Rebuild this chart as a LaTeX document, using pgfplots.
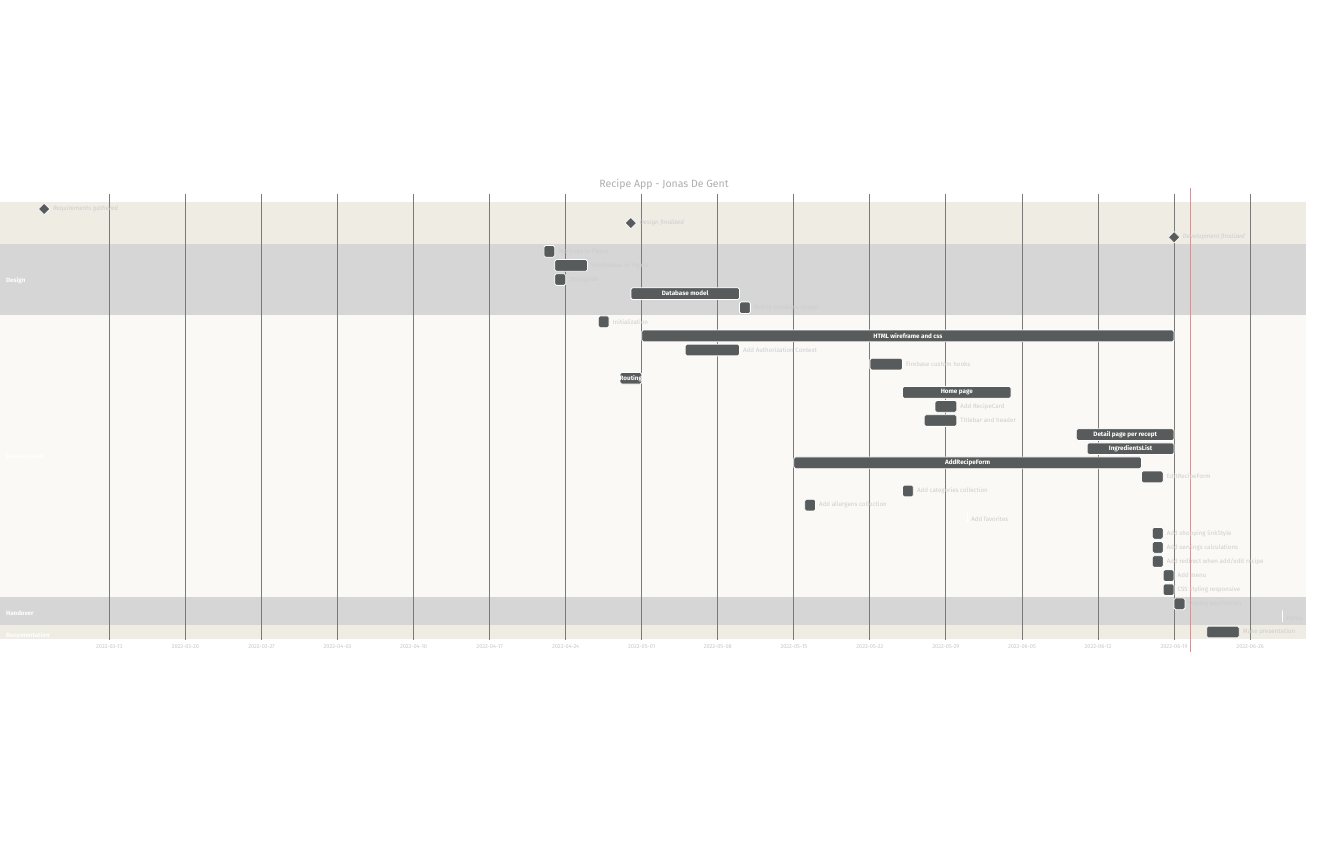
\documentclass[border=0pt]{standalone}
\usepackage{pgfplots}
\pgfplotsset{compat=1.18}
\usepackage{pgfplotstable}
\usepackage{fontspec}
\setmainfont{Fira Sans}

\definecolor{secA}{RGB}{239,236,228}
\definecolor{secB}{RGB}{214,214,214}
\definecolor{secC}{RGB}{250,249,246}
\definecolor{barc}{RGB}{88,91,91}
\definecolor{barstroke}{RGB}{255,255,255}
\definecolor{gridc}{RGB}{122,122,122}
\definecolor{outtext}{RGB}{205,205,205}
\definecolor{ticktext}{RGB}{198,198,198}
\definecolor{titlec}{RGB}{173,173,173}
\definecolor{todayc}{RGB}{240,138,138}

% tasks: row, start day, end day (day 0 = 2022-03-13)
\pgfplotstableread[col sep=comma]{
row,start,end
3,40,41
4,41,44
5,41,42
6,48,58
7,58,59
8,45,46
9,49,98
10,53,58
11,70,73
12,47,49
13,73,83
14,76,78
15,75,78
16,89,98
17,90,98
18,63,95
19,95,97
20,73,74
21,64,65
22,79,79
23,96,97
24,96,97
25,96,97
26,97,98
27,97,98
28,98,99
29,108,108
30,101,104
}\tasks

\pgfplotstableread[col sep=comma]{
x,row,label
53,6,Database model
73.5,9,HTML wireframe and css
48,12,Routing
78,13,Home page
93.5,16,Detail page per recept
94,17,IngredientsList
79,18,AddRecipeForm
}\inlab

\pgfplotstableread[col sep=comma]{
x,row,label
41.32,3,Mockups in Figma
44.32,4,Wireframes in Figma
42.32,5,Styleguide
59.32,7,Refine database model
46.32,8,Initialization
58.32,10,Add Authorization Context
73.32,11,Firebase custom hooks
78.32,14,Add RecipeCard
78.32,15,Titlebar and header
97.32,19,EditRecipeForm
74.32,20,Add categories collection
65.32,21,Add allergens collection
79.32,22,Add favorites
97.32,23,Add shopping linkStyle
97.32,24,Add servings calculations
97.32,25,Add redirect when add/edit recipe
98.32,26,Add menu
98.32,27,CSS styling responsive
99.32,28,Deploy application
108.32,29,Demo
104.32,30,Make presentation
}\outlab

\pgfplotstableread[col sep=comma]{
x,row
-6,0
48,1
98,2
}\miles

\pgfplotstableread[col sep=comma]{
x,row,label
-5.2,0,Requirements gathered
48.8,1,Design finalized
98.8,2,Development finalized
}\mileslab

\pgfplotstableread[col sep=comma]{
x,row,label
-9.52,5.1,Design
-9.52,17.6,Development
-9.52,28.7,Handover
-9.52,30.2,Documentation
}\seclab

\pgfplotstableread[col sep=comma]{
x,row,label
0,31.06,2022-03-13
7,31.06,2022-03-20
14,31.06,2022-03-27
21,31.06,2022-04-03
28,31.06,2022-04-10
35,31.06,2022-04-17
42,31.06,2022-04-24
49,31.06,2022-05-01
56,31.06,2022-05-08
63,31.06,2022-05-15
70,31.06,2022-05-22
77,31.06,2022-05-29
84,31.06,2022-06-05
91,31.06,2022-06-12
98,31.06,2022-06-19
105,31.06,2022-06-26
}\ticklab

\begin{document}
\begin{tikzpicture}
\begin{axis}[
  width=1328pt, height=844pt, scale only axis,
  xmin=-10.070, xmax=112.17,
  ymin=-14.823, ymax=45.035, y dir=reverse,
  hide axis, clip=false,
]
% section bands
\addplot[fill=secA, draw=none] coordinates {(-10.07,-0.5) (110.14,-0.5) (110.14,2.5) (-10.07,2.5)} --cycle;
\addplot[fill=secB, draw=none] coordinates {(-10.07,2.5) (110.14,2.5) (110.14,7.5) (-10.07,7.5)} --cycle;
\addplot[fill=secC, draw=none] coordinates {(-10.07,7.5) (110.14,7.5) (110.14,27.5) (-10.07,27.5)} --cycle;
\addplot[fill=secB, draw=none] coordinates {(-10.07,27.5) (110.14,27.5) (110.14,29.5) (-10.07,29.5)} --cycle;
\addplot[fill=secA, draw=none] coordinates {(-10.07,29.5) (110.14,29.5) (110.14,30.5) (-10.07,30.5)} --cycle;

% grid lines
\addplot[color=gridc, line width=0.9pt, unbounded coords=jump] table[row sep=\\] {
x y\\
0 -1.06\\ 0 30.57\\ 0 nan\\
7 -1.06\\ 7 30.57\\ 7 nan\\
14 -1.06\\ 14 30.57\\ 14 nan\\
21 -1.06\\ 21 30.57\\ 21 nan\\
28 -1.06\\ 28 30.57\\ 28 nan\\
35 -1.06\\ 35 30.57\\ 35 nan\\
42 -1.06\\ 42 30.57\\ 42 nan\\
49 -1.06\\ 49 30.57\\ 49 nan\\
56 -1.06\\ 56 30.57\\ 56 nan\\
63 -1.06\\ 63 30.57\\ 63 nan\\
70 -1.06\\ 70 30.57\\ 70 nan\\
77 -1.06\\ 77 30.57\\ 77 nan\\
84 -1.06\\ 84 30.57\\ 84 nan\\
91 -1.06\\ 91 30.57\\ 91 nan\\
98 -1.06\\ 98 30.57\\ 98 nan\\
105 -1.06\\ 105 30.57\\
};

% task bars
\addplot[scatter, only marks, mark=*, mark size=0pt, color=barc,
  visualization depends on={(\thisrow{end}-\thisrow{start})*10.864 \as \barw},
  scatter/@pre marker code/.code={%
    \draw[fill=barc, draw=barstroke, line width=0.8pt, rounded corners=1.6pt]
      (0pt,-5.85pt) rectangle (\barw pt,5.85pt);},
  scatter/@post marker code/.code={},
] table[x=start, y=row] {\tasks};

% milestones
\addplot[only marks, mark=square*, mark size=4pt,
  mark options={rotate=45, fill=barc, draw=barstroke, line width=0.6pt}]
  table[x=x, y=row] {\miles};

% inside labels
\addplot[only marks, mark=none, nodes near coords, point meta=explicit symbolic,
  nodes near coords style={anchor=center, inner sep=0pt, text=white,
    font=\fontsize{6.3}{7}\selectfont\bfseries}]
  table[x=x, y=row, meta=label] {\inlab};

% outside labels
\addplot[only marks, mark=none, nodes near coords, point meta=explicit symbolic,
  nodes near coords style={anchor=west, inner sep=0pt, text=outtext,
    font=\fontsize{6.2}{7}\selectfont}]
  table[x=x, y=row, meta=label] {\outlab};

% milestone labels
\addplot[only marks, mark=none, nodes near coords, point meta=explicit symbolic,
  nodes near coords style={anchor=west, inner sep=0pt, text=outtext,
    font=\fontsize{6.2}{7}\selectfont\itshape}]
  table[x=x, y=row, meta=label] {\mileslab};

% section titles
\addplot[only marks, mark=none, nodes near coords, point meta=explicit symbolic,
  nodes near coords style={anchor=west, inner sep=0pt, text=white,
    font=\fontsize{6.2}{7}\selectfont\bfseries}]
  table[x=x, y=row, meta=label] {\seclab};

% tick labels
\addplot[only marks, mark=none, nodes near coords, point meta=explicit symbolic,
  nodes near coords style={anchor=center, inner sep=0pt, text=ticktext,
    font=\fontsize{5.6}{6}\selectfont}]
  table[x=x, y=row, meta=label] {\ticklab};

% title
\addplot[only marks, mark=none, nodes near coords, point meta=explicit symbolic,
  nodes near coords style={anchor=center, inner sep=0pt, text=titlec,
    font=\fontsize{10.5}{12}\selectfont}]
  coordinates {(51.05,-1.77) [Recipe App - Jonas De Gent]};

% today line
\addplot[color=todayc, line width=1.8pt] coordinates {(99.51,-1.49) (99.51,31.4)};
\end{axis}
\path (current axis.south west) rectangle (current axis.north east);
\end{tikzpicture}
\end{document}
